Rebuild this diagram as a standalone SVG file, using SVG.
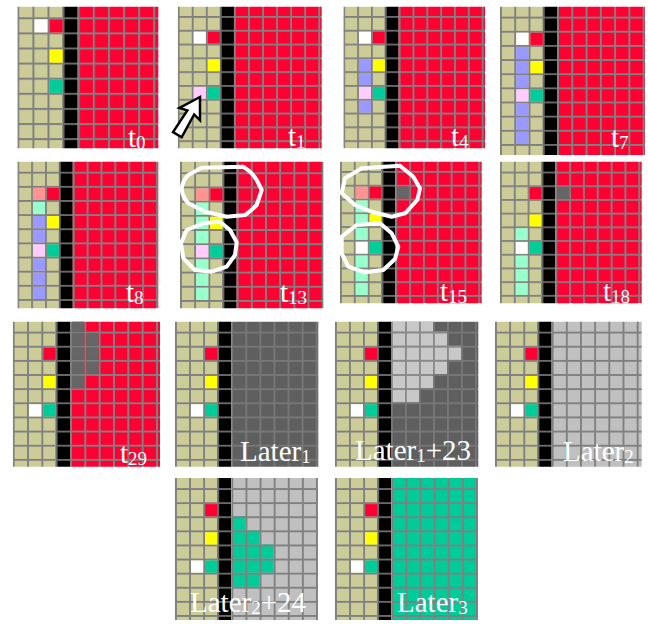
<svg xmlns="http://www.w3.org/2000/svg" xmlns:xlink="http://www.w3.org/1999/xlink" width="648" height="624" viewBox="0 0 648 624">
<style>
.lbl{font-family:"Liberation Serif","Times New Roman",serif;font-size:29px;fill:#fff}
.sub{font-size:19px}
.blob{fill:none;stroke:#fff;stroke-width:4;stroke-linejoin:round}
.w{fill:#fff}.r{fill:#ff0033}.y{fill:#ffff00}.g{fill:#00cc99}.pk{fill:#ffccff}.b{fill:#9999ff}.s{fill:#ff9393}.m{fill:#99ffcc}.d{fill:#666}.lg{fill:#c8c8c8}
</style>
<defs>
<pattern id="pTan" width="15" height="15" patternUnits="userSpaceOnUse"><rect width="15" height="15" fill="#808080"/><rect x="2" y="2" width="13" height="13" fill="#cccc99"/></pattern>
<pattern id="pBlk" width="15" height="15" patternUnits="userSpaceOnUse"><rect width="15" height="15" fill="#6a6a6a"/><rect x="2" y="2" width="13" height="13" fill="#000"/></pattern>
<pattern id="pRed" width="15" height="15" patternUnits="userSpaceOnUse"><rect width="15" height="15" fill="#808080"/><rect x="2" y="2" width="13" height="13" fill="#ff0033"/></pattern>
<pattern id="pDark" width="15" height="15" patternUnits="userSpaceOnUse"><rect width="15" height="15" fill="#777"/><rect x="2" y="2" width="13" height="13" fill="#5f5f5f"/></pattern>
<pattern id="pLight" width="15" height="15" patternUnits="userSpaceOnUse"><rect width="15" height="15" fill="#808080"/><rect x="2" y="2" width="13" height="13" fill="#c0c0c0"/></pattern>
<pattern id="pGreen" width="15" height="15" patternUnits="userSpaceOnUse"><rect width="15" height="15" fill="#808080"/><rect x="2" y="2" width="13" height="13" fill="#00cc99"/></pattern>
<pattern id="pLg" width="15" height="15" patternUnits="userSpaceOnUse"><rect width="15" height="15" fill="#8a8a8a"/><rect x="2" y="2" width="13" height="13" fill="#c8c8c8"/></pattern>
<g id="left"><rect width="45" height="180" fill="url(#pTan)"/><rect x="45" width="15" height="180" fill="url(#pBlk)"/></g>
<g id="bRed"><use xlink:href="#left"/><rect x="60" width="120" height="180" fill="url(#pRed)"/></g>
<g id="bDark"><use xlink:href="#left"/><rect x="60" width="120" height="180" fill="url(#pDark)"/></g>
<g id="bLight"><use xlink:href="#left"/><rect x="60" width="120" height="180" fill="url(#pLight)"/></g>
<g id="bGreen"><use xlink:href="#left"/><rect x="60" width="120" height="180" fill="url(#pGreen)"/></g>
<clipPath id="c1"><rect x="17.3" y="6.7" width="141" height="141.6"/></clipPath>
<clipPath id="c2"><rect x="177.7" y="6.7" width="144" height="141.6"/></clipPath>
<clipPath id="c3"><rect x="343.3" y="6.7" width="141.7" height="141.6"/></clipPath>
<clipPath id="c4"><rect x="500" y="6.7" width="145" height="148.3"/></clipPath>
<clipPath id="c5"><rect x="17.3" y="161.7" width="141" height="146.6"/></clipPath>
<clipPath id="c6"><rect x="180" y="161.7" width="143.3" height="146.6"/></clipPath>
<clipPath id="c7"><rect x="340" y="161.7" width="141.7" height="141.6"/></clipPath>
<clipPath id="c8"><rect x="500" y="161.7" width="141.7" height="141.6"/></clipPath>
<clipPath id="c9"><rect x="12.7" y="321.7" width="147.3" height="145"/></clipPath>
<clipPath id="c10"><rect x="175" y="321.7" width="143.3" height="145"/></clipPath>
<clipPath id="c11"><rect x="335" y="321.7" width="143.3" height="145"/></clipPath>
<clipPath id="c12"><rect x="495" y="321.7" width="146.7" height="145"/></clipPath>
<clipPath id="c13"><rect x="175" y="478" width="143" height="142"/></clipPath>
<clipPath id="c14"><rect x="335" y="478" width="143" height="142"/></clipPath>
</defs>
<rect width="648" height="624" fill="#fff"/>

<g id="t0">
<g clip-path="url(#c1)"><g transform="translate(17.3,2.2) scale(1.0067,1.0067)">
<use xlink:href="#bRed"/>
<rect class="w" x="17" y="17" width="13" height="13"/><rect class="r" x="32" y="17" width="13" height="13"/>
<rect class="y" x="32" y="47" width="13" height="13"/><rect class="g" x="32" y="77" width="13" height="13"/>
</g></g>
<text class="lbl" x="128" y="147">t<tspan class="sub" dy="2">0</tspan></text>
</g>

<g id="t1">
<g clip-path="url(#c2)"><g transform="translate(177.7,2.2) scale(0.9373,0.92)">
<use xlink:href="#bRed"/>
<rect class="w" x="17" y="32" width="13" height="13"/><rect class="r" x="32" y="32" width="13" height="13"/>
<rect class="y" x="32" y="62" width="13" height="13"/>
<rect class="pk" x="17" y="92" width="13" height="13"/><rect class="g" x="32" y="92" width="13" height="13"/>
</g></g>
<polygon points="0,0 12,20 4,18 5,44 -5,44 -4,18 -12,20" transform="translate(200,97) rotate(31)" fill="#fff" stroke="#000" stroke-width="2.5" stroke-linejoin="miter"/>
<text class="lbl" x="288" y="146">t<tspan class="sub" dy="2">1</tspan></text>
</g>

<g id="t4">
<g clip-path="url(#c3)"><g transform="translate(343.3,2.2) scale(0.9227,0.92)">
<use xlink:href="#bRed"/>
<rect class="w" x="17" y="32" width="13" height="13"/><rect class="r" x="32" y="32" width="13" height="13"/>
<rect class="b" x="17" y="62" width="13" height="13"/><rect class="y" x="32" y="62" width="13" height="13"/>
<rect class="b" x="17" y="77" width="13" height="13"/>
<rect class="pk" x="17" y="92" width="13" height="13"/><rect class="g" x="32" y="92" width="13" height="13"/>
<rect class="b" x="17" y="107" width="13" height="13"/>
</g></g>
<text class="lbl" x="451" y="146">t<tspan class="sub" dy="2">4</tspan></text>
</g>

<g id="t7">
<g clip-path="url(#c4)"><g transform="translate(500,2.5) scale(0.9513,0.9433)">
<use xlink:href="#bRed"/>
<rect class="w" x="17" y="32" width="13" height="13"/><rect class="r" x="32" y="32" width="13" height="13"/>
<rect class="b" x="17" y="47" width="13" height="13"/>
<rect class="b" x="17" y="62" width="13" height="13"/><rect class="y" x="32" y="62" width="13" height="13"/>
<rect class="b" x="17" y="77" width="13" height="13"/>
<rect class="pk" x="17" y="92" width="13" height="13"/><rect class="g" x="32" y="92" width="13" height="13"/>
<rect class="b" x="17" y="107" width="13" height="13"/><rect class="b" x="17" y="122" width="13" height="13"/><rect class="b" x="17" y="137" width="13" height="13"/>
</g></g>
<text class="lbl" x="611" y="147">t<tspan class="sub" dy="2">7</tspan></text>
</g>

<g id="t8">
<g clip-path="url(#c5)"><g transform="translate(17.3,157.6) scale(0.9247,0.9427)">
<use xlink:href="#bRed"/>
<rect class="s" x="17" y="32" width="13" height="13"/><rect class="r" x="32" y="32" width="13" height="13"/>
<rect class="m" x="17" y="47" width="13" height="13"/>
<rect class="b" x="17" y="62" width="13" height="13"/><rect class="y" x="32" y="62" width="13" height="13"/>
<rect class="b" x="17" y="77" width="13" height="13"/>
<rect class="pk" x="17" y="92" width="13" height="13"/><rect class="g" x="32" y="92" width="13" height="13"/>
<rect class="b" x="17" y="107" width="13" height="13"/><rect class="b" x="17" y="122" width="13" height="13"/><rect class="b" x="17" y="137" width="13" height="13"/>
</g></g>
<text class="lbl" x="126" y="302">t<tspan class="sub" dy="2">8</tspan></text>
</g>

<g id="t13">
<g clip-path="url(#c6)"><g transform="translate(180,158.1) scale(0.9447,0.946)">
<use xlink:href="#bRed"/>
<rect class="s" x="17" y="32" width="13" height="13"/><rect class="r" x="32" y="32" width="13" height="13"/>
<rect class="m" x="17" y="47" width="13" height="13"/>
<rect class="m" x="17" y="62" width="13" height="13"/><rect class="y" x="32" y="62" width="13" height="13"/>
<rect class="m" x="17" y="77" width="13" height="13"/>
<rect class="pk" x="17" y="92" width="13" height="13"/><rect class="g" x="32" y="92" width="13" height="13"/>
<rect class="m" x="17" y="107" width="13" height="13"/><rect class="m" x="17" y="122" width="13" height="13"/><rect class="m" x="17" y="137" width="13" height="13"/>
</g></g>
<path class="blob" d="M201.7,167.7 L243.3,166.7 Q252,172 256.7,180 L261.7,190 L256.7,205 Q251,211 245,215 L226.7,216.7 L205,211.7 L188.3,203.3 Q182,196 181.7,188.3 Q183,180 188.3,175 Z"/>
<path class="blob" d="M203.3,223.3 L220,221.7 L230,230 L236.7,242.3 L235,255 L226.7,266.7 L211.7,271.7 L195,270 L183.3,258.3 L181,243.3 L186.7,230 Z"/>
<text class="lbl" x="280" y="302">t<tspan class="sub" dy="2">13</tspan></text>
</g>

<g id="t15">
<g clip-path="url(#c7)"><g transform="translate(340,157.2) scale(0.922,0.9187)">
<use xlink:href="#bRed"/>
<rect class="s" x="17" y="32" width="13" height="13"/><rect class="r" x="32" y="32" width="13" height="13"/><rect class="d" x="62" y="32" width="13" height="13"/>
<rect class="m" x="17" y="47" width="13" height="13"/>
<rect class="m" x="17" y="62" width="13" height="13"/><rect class="y" x="32" y="62" width="13" height="13"/>
<rect class="m" x="17" y="77" width="13" height="13"/>
<rect class="w" x="17" y="92" width="13" height="13"/><rect class="g" x="32" y="92" width="13" height="13"/>
<rect class="m" x="17" y="107" width="13" height="13"/><rect class="m" x="17" y="122" width="13" height="13"/><rect class="m" x="17" y="137" width="13" height="13"/>
</g></g>
<path class="blob" d="M361.7,168.3 L400,165.7 L413.3,176.7 L420,188.3 L417.3,200 L405,213.3 L391.7,216.7 L373.3,212.3 L355,205 L341.7,193.3 L345,178.3 Z"/>
<path class="blob" d="M356.7,225 L380,223.3 L391.7,233.3 L398.3,246.7 L395,259 L383.3,270 L365,272.3 L348.3,266.7 L341.7,253.3 L341.7,236.7 Z"/>
<text class="lbl" x="440" y="301">t<tspan class="sub" dy="2">15</tspan></text>
</g>

<g id="t18">
<g clip-path="url(#c8)"><g transform="translate(500,157.9) scale(0.922,0.9133)">
<use xlink:href="#bRed"/>
<rect class="r" x="32" y="32" width="13" height="13"/><rect class="d" x="62" y="32" width="13" height="13"/>
<rect class="y" x="32" y="62" width="13" height="13"/>
<rect class="m" x="17" y="77" width="13" height="13"/>
<rect class="w" x="17" y="92" width="13" height="13"/><rect class="g" x="32" y="92" width="13" height="13"/>
<rect class="m" x="17" y="107" width="13" height="13"/><rect class="m" x="17" y="122" width="13" height="13"/><rect class="m" x="17" y="137" width="13" height="13"/>
</g></g>
<text class="lbl" x="603" y="301">t<tspan class="sub" dy="2">18</tspan></text>
</g>

<g id="t29">
<g clip-path="url(#c9)"><g transform="translate(12.7,317.5) scale(0.9553,0.9427)">
<use xlink:href="#bRed"/>
<rect class="r" x="32" y="32" width="13" height="13"/>
<rect class="y" x="32" y="62" width="13" height="13"/>
<rect class="w" x="17" y="92" width="13" height="13"/><rect class="g" x="32" y="92" width="13" height="13"/>
<rect class="d" x="62" y="2" width="13" height="13"/><rect class="d" x="62" y="17" width="13" height="13"/><rect class="d" x="62" y="32" width="13" height="13"/><rect class="d" x="62" y="47" width="13" height="13"/><rect class="d" x="62" y="62" width="13" height="13"/>
<rect class="d" x="77" y="17" width="13" height="13"/><rect class="d" x="77" y="32" width="13" height="13"/><rect class="d" x="77" y="47" width="13" height="13"/>
</g></g>
<text class="lbl" x="120" y="463">t<tspan class="sub" dy="2">29</tspan></text>
</g>

<g id="later1">
<g clip-path="url(#c10)"><g transform="translate(175,317.5) scale(0.938,0.9427)">
<use xlink:href="#bDark"/>
<rect class="r" x="32" y="32" width="13" height="13"/>
<rect class="y" x="32" y="62" width="13" height="13"/>
<rect class="w" x="17" y="92" width="13" height="13"/><rect class="g" x="32" y="92" width="13" height="13"/>
</g></g>
<text class="lbl" x="240" y="461">Later<tspan class="sub" dy="2">1</tspan></text>
</g>

<g id="later1p23">
<g clip-path="url(#c11)"><g transform="translate(335,317.5) scale(0.9333,0.9427)">
<use xlink:href="#bDark"/>
<rect class="r" x="32" y="32" width="13" height="13"/>
<rect class="y" x="32" y="62" width="13" height="13"/>
<rect class="w" x="17" y="92" width="13" height="13"/><rect class="g" x="32" y="92" width="13" height="13"/>
<rect x="60" y="0" width="45" height="15" fill="url(#pLg)"/>
<rect x="60" y="15" width="60" height="15" fill="url(#pLg)"/>
<rect x="60" y="30" width="75" height="15" fill="url(#pLg)"/>
<rect x="60" y="45" width="60" height="15" fill="url(#pLg)"/>
<rect x="60" y="60" width="45" height="15" fill="url(#pLg)"/>
<rect x="60" y="75" width="30" height="15" fill="url(#pLg)"/>
</g></g>
<text class="lbl" x="355" y="460">Later<tspan class="sub" dy="2">1</tspan><tspan dy="-2">+23</tspan></text>
</g>

<g id="later2">
<g clip-path="url(#c12)"><g transform="translate(495,317.5) scale(0.9447,0.9427)">
<use xlink:href="#bLight"/>
<rect class="r" x="32" y="32" width="13" height="13"/>
<rect class="y" x="32" y="62" width="13" height="13"/>
<rect class="w" x="17" y="92" width="13" height="13"/><rect class="g" x="32" y="92" width="13" height="13"/>
</g></g>
<text class="lbl" x="563" y="461">Later<tspan class="sub" dy="2">2</tspan></text>
</g>

<g id="later2p24">
<g clip-path="url(#c13)"><g transform="translate(175,474) scale(0.94,0.94)">
<use xlink:href="#bLight"/>
<rect class="r" x="32" y="32" width="13" height="13"/>
<rect class="y" x="32" y="62" width="13" height="13"/>
<rect class="w" x="17" y="92" width="13" height="13"/><rect class="g" x="32" y="92" width="13" height="13"/>
<rect x="60" y="45" width="15" height="15" fill="url(#pGreen)"/>
<rect x="60" y="60" width="30" height="15" fill="url(#pGreen)"/>
<rect x="60" y="75" width="45" height="15" fill="url(#pGreen)"/>
<rect x="60" y="90" width="45" height="15" fill="url(#pGreen)"/>
<rect x="60" y="105" width="30" height="15" fill="url(#pGreen)"/>
</g></g>
<text class="lbl" x="190" y="612">Later<tspan class="sub" dy="2">2</tspan><tspan dy="-2">+24</tspan></text>
</g>

<g id="later3">
<g clip-path="url(#c14)"><g transform="translate(335,474) scale(0.94,0.94)">
<use xlink:href="#bGreen"/>
<rect class="r" x="32" y="32" width="13" height="13"/>
<rect class="y" x="32" y="62" width="13" height="13"/>
<rect class="w" x="17" y="92" width="13" height="13"/><rect class="g" x="32" y="92" width="13" height="13"/>
</g></g>
<text class="lbl" x="397" y="612">Later<tspan class="sub" dy="2">3</tspan></text>
</g>
</svg>
